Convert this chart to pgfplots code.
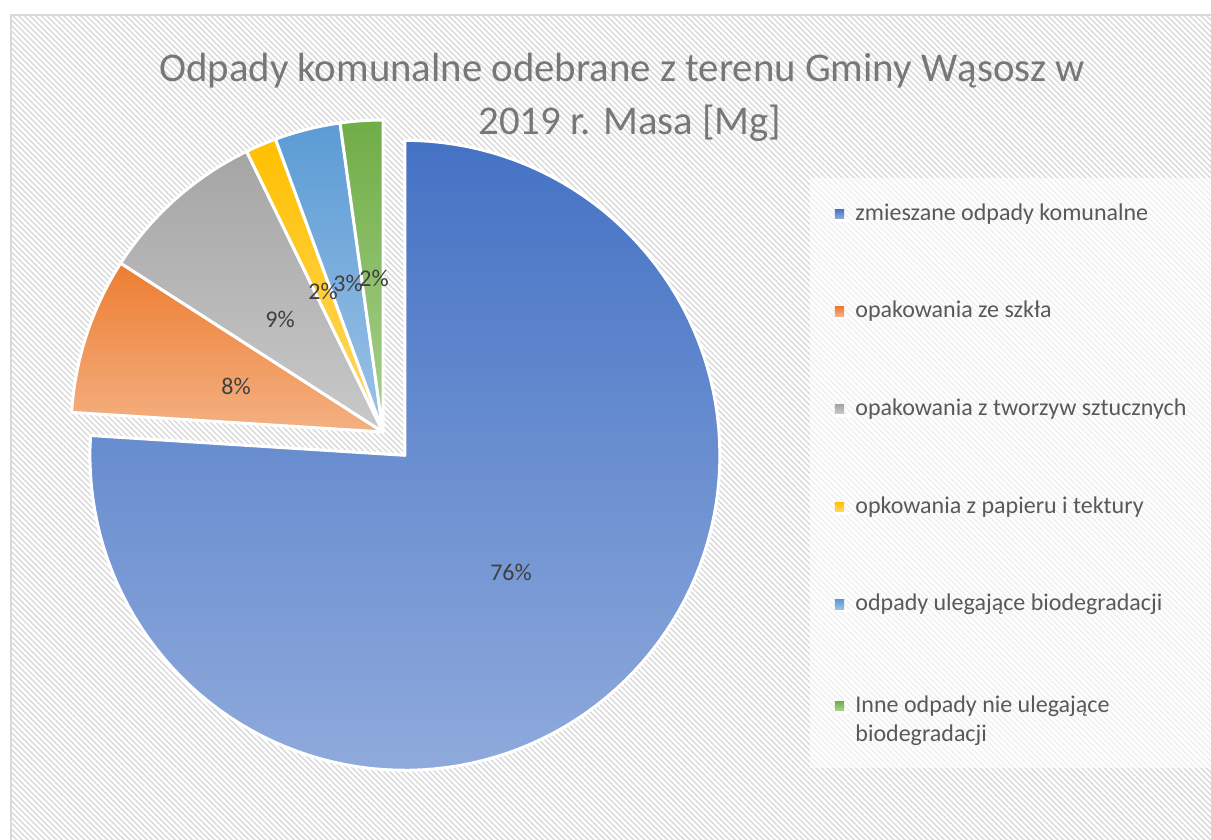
\documentclass[border=0pt]{standalone}
\usepackage{fontspec}
\setmainfont{Carlito}
\usepackage{pgfplots}
\usepackage{pgfplotstable}
\pgfplotsset{compat=1.18}
\usetikzlibrary{patterns.meta}

\definecolor{bA}{HTML}{4472C4}\definecolor{bAl}{HTML}{8FAADC}
\definecolor{oA}{HTML}{ED7D31}\definecolor{oAl}{HTML}{F4B183}
\definecolor{gA}{HTML}{A5A5A5}\definecolor{gAl}{HTML}{C9C9C9}
\definecolor{yA}{HTML}{FFC000}\definecolor{yAl}{HTML}{FFD966}
\definecolor{lA}{HTML}{5B9BD5}\definecolor{lAl}{HTML}{9DC3E6}
\definecolor{eA}{HTML}{70AD47}\definecolor{eAl}{HTML}{A9D18E}
\definecolor{titlec}{HTML}{777777}
\definecolor{legc}{HTML}{595959}
\definecolor{labc}{HTML}{404040}

% share of each category in per cent, clockwise from 12 o'clock
\pgfplotstableread{
v
76.0
8.1
8.7
1.6
3.4
2.2
}\piedata

% #1 start angle, #2 end angle, #3/#4 centre, #5/#6 gradient colours, #7 radius
\newcommand\pieslice[7]{%
  \addplot[draw=white, line width=1.5pt, line join=round,
    top color=#5, bottom color=#6, domain=#2:#1, samples=120, variable=\t]
    ({#3+#7*cos(\t)},{#4+#7*sin(\t)}) -- (axis cs:#3,#4) -- cycle;}

\begin{document}
\begin{tikzpicture}
\pgfplotstablegetelem{0}{v}\of\piedata \pgfmathsetmacro{\vA}{\pgfplotsretval}
\pgfplotstablegetelem{1}{v}\of\piedata \pgfmathsetmacro{\vB}{\pgfplotsretval}
\pgfplotstablegetelem{2}{v}\of\piedata \pgfmathsetmacro{\vC}{\pgfplotsretval}
\pgfplotstablegetelem{3}{v}\of\piedata \pgfmathsetmacro{\vD}{\pgfplotsretval}
\pgfplotstablegetelem{4}{v}\of\piedata \pgfmathsetmacro{\vE}{\pgfplotsretval}
\pgfplotstablegetelem{5}{v}\of\piedata \pgfmathsetmacro{\vF}{\pgfplotsretval}
\pgfmathsetmacro{\aA}{90}
\pgfmathsetmacro{\aB}{\aA-3.6*\vA}
\pgfmathsetmacro{\aC}{\aB-3.6*\vB}
\pgfmathsetmacro{\aD}{\aC-3.6*\vC}
\pgfmathsetmacro{\aE}{\aD-3.6*\vD}
\pgfmathsetmacro{\aF}{\aE-3.6*\vE}
\pgfmathsetmacro{\aG}{\aF-3.6*\vF}
\pgfmathsetmacro{\cx}{383}
\pgfmathsetmacro{\cy}{408}
\pgfmathsetmacro{\mid}{(\aA+\aB)/2}
\pgfmathsetmacro{\ex}{\cx+32*cos(\mid)}
\pgfmathsetmacro{\ey}{\cy+32*sin(\mid)}
\begin{axis}[
  x=0.5pt, y=0.5pt, scale only axis,
  xmin=0, xmax=1211, ymin=0, ymax=840,
  hide axis,
  legend cell align=left,
  legend image code/.code={\path (0pt,0pt) -- (7.5pt,0pt);
    \fill[#1, draw=none] (0pt,0.8pt) rectangle (4.6pt,5.4pt);},
  legend style={draw=none, fill=none, at={(axis cs:833,641)}, anchor=north west,
    inner sep=0pt, font=\fontsize{12}{14.5}\selectfont, text=legc, row sep=35pt,
    cells={anchor=base west}},
]
\fill[white] (axis cs:0,0) rectangle (axis cs:1211,840);
\fill[pattern={Lines[angle=-45,distance=2pt,line width=0.7pt]}, pattern color=black!15]
  (axis cs:11,0) rectangle (axis cs:1211,825);
\draw[color=black!15, line width=1pt] (axis cs:11,0) -- (axis cs:11,825) -- (axis cs:1211,825);
\fill[white, opacity=0.6] (axis cs:810,72) rectangle (axis cs:1211,662);

\pieslice{\aA}{\aB}{\ex}{\ey}{bA}{bAl}{315}
\addlegendentry{zmieszane odpady komunalne}
\pieslice{\aB}{\aC}{\cx}{\cy}{oA}{oAl}{312}
\addlegendentry{opakowania ze szkła}
\pieslice{\aC}{\aD}{\cx}{\cy}{gA}{gAl}{312}
\addlegendentry{opakowania z tworzyw sztucznych}
\pieslice{\aD}{\aE}{\cx}{\cy}{yA}{yAl}{312}
\addlegendentry{opkowania z papieru i tektury}
\pieslice{\aE}{\aF}{\cx}{\cy}{lA}{lAl}{312}
\addlegendentry{odpady ulegające biodegradacji}
\pieslice{\aF}{\aG}{\cx}{\cy}{eA}{eAl}{312}
\addlegendentry{\begin{tabular}[t]{@{}l@{}}Inne odpady nie ulegające\\biodegradacji\end{tabular}}

\begin{scope}[every node/.style={text=labc, font=\fontsize{12}{14}\selectfont}]
\node at (axis cs:511,268) {76\%};
\node at (axis cs:236,454) {8\%};
\node at (axis cs:280,521) {9\%};
\node at (axis cs:323,549) {2\%};
\node at (axis cs:348,557) {3\%};
\node at (axis cs:374,562) {2\%};
\end{scope}
\node[anchor=base, text=titlec, font=\fontsize{20.4}{24}\selectfont] at (axis cs:622,758)
  {Odpady komunalne odebrane z terenu Gminy Wąsosz w};
\node[anchor=base, text=titlec, font=\fontsize{20.4}{24}\selectfont] at (axis cs:630,705)
  {2019 r. Masa [Mg]};
\end{axis}
\pgfresetboundingbox
\useasboundingbox (current axis.south west) rectangle (current axis.north east);
\end{tikzpicture}
\end{document}
